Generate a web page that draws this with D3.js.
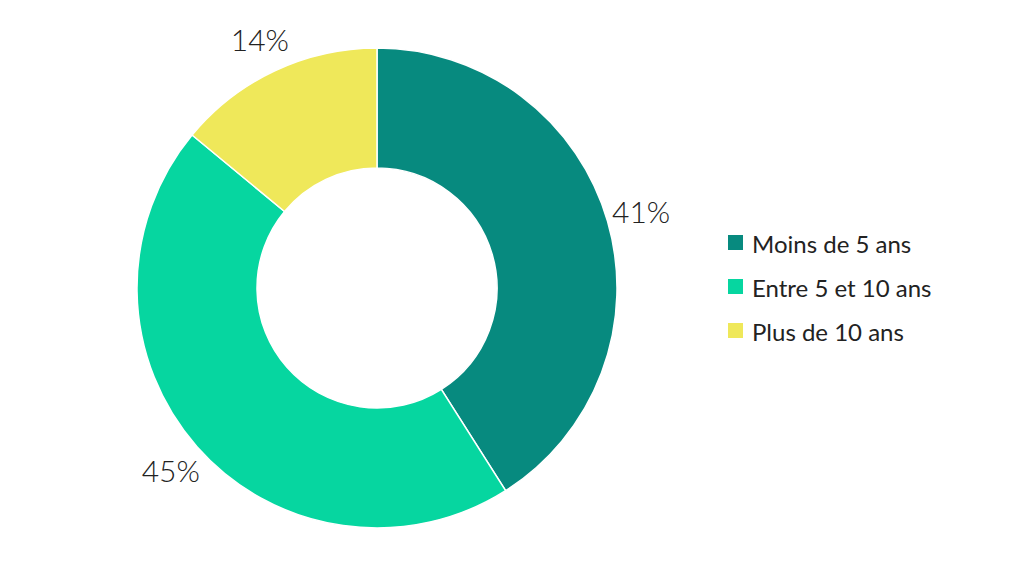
<!DOCTYPE html>
<html><head><meta charset="utf-8">
<script src="https://cdn.jsdelivr.net/npm/d3@7"></script>
<style>body{margin:0;background:#fff}</style>
</head><body>
<svg id="chart" width="1024" height="577"></svg>
<script>
// data
const categories = ["Moins de 5 ans", "Entre 5 et 10 ans", "Plus de 10 ans"];
const values = [41, 45, 14];
const colors = ["#078a7f", "#06d6a0", "#efe85a"];

const svg = d3.select("#chart");
const cx = 377, cy = 288, outerR = 240, innerR = 120;
const data = categories.map((c, i) => ({ label: c, value: values[i], color: colors[i] }));

const pie = d3.pie().value(d => d.value).sort(null);
const arc = d3.arc().innerRadius(innerR).outerRadius(outerR);
const labelArc = d3.arc().innerRadius(275).outerRadius(275);

const g = svg.append("g").attr("transform", `translate(${cx},${cy})`);
const arcs = pie(data);

g.selectAll("path")
  .data(arcs)
  .enter()
  .append("path")
  .attr("d", arc)
  .attr("fill", d => d.data.color)
  .attr("stroke", "#fff")
  .attr("stroke-width", 1.5);

g.selectAll("text.pct")
  .data(arcs)
  .enter()
  .append("text")
  .attr("class", "pct")
  .attr("transform", d => `translate(${labelArc.centroid(d)})`)
  .attr("text-anchor", "middle")
  .attr("dominant-baseline", "central")
  .style("font-family", "Lato, sans-serif")
  .style("font-size", "30px")
  .style("font-weight", 300)
  .attr("fill", "#222")
  .text(d => d.data.value + "%");

// legend
const legend = svg.append("g").attr("transform", "translate(728,243)");
const item = legend.selectAll("g")
  .data(data)
  .enter()
  .append("g")
  .attr("transform", (d, i) => `translate(0,${i * 44})`);
item.append("rect")
  .attr("x", 0).attr("y", -8).attr("width", 15).attr("height", 15)
  .attr("fill", d => d.color);
item.append("text")
  .attr("x", 24).attr("y", 0)
  .attr("dominant-baseline", "central")
  .style("font-family", "Lato, sans-serif")
  .style("font-size", "24px")
  .attr("fill", "#222")
  .text(d => d.label);
</script>
</body></html>
